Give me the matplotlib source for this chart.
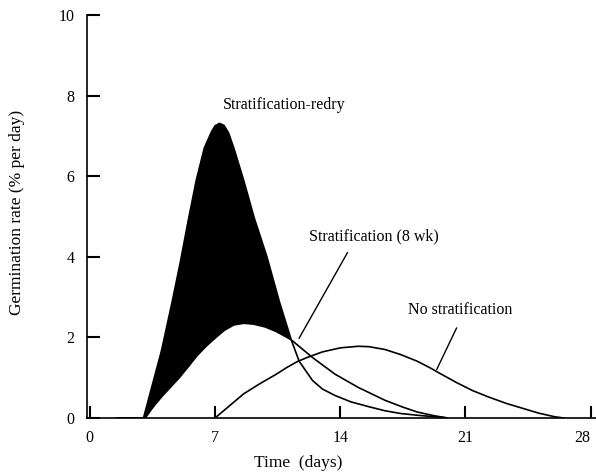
import numpy as np
import matplotlib.pyplot as plt

plt.rcParams['font.family'] = ['Liberation Serif', 'DejaVu Serif']

# Stratification-redry
redry_day = [1.5, 3.0, 3.5, 4.0, 4.6, 5.05, 5.5, 5.95, 6.4, 6.8, 7.0, 7.25, 7.5, 7.75,
             8.05, 8.6, 9.2, 9.9, 10.6, 11.26, 11.7, 12.45, 13.0, 13.7, 14.6, 15.6,
             16.5, 17.4, 18.5, 19.6, 20.0]
redry_rate = [0.0, 0.0, 0.83, 1.66, 2.88, 3.85, 4.9, 5.9, 6.7, 7.1, 7.25, 7.31, 7.26, 7.08,
              6.7, 5.9, 4.95, 4.0, 2.88, 1.94, 1.41, 0.93, 0.72, 0.56, 0.4, 0.28,
              0.18, 0.11, 0.06, 0.02, 0.0]

# Stratification (8 wk)
strat_day = [1.5, 3.1, 3.5, 4.0, 4.5, 5.0, 5.5, 6.0, 6.5, 7.0, 7.5, 8.05, 8.6, 9.15,
             9.8, 10.4, 10.9, 11.26, 12.45, 13.7, 15.0, 16.5, 17.5, 18.3, 19.2, 20.0]
strat_rate = [0.0, 0.0, 0.25, 0.52, 0.76, 1.0, 1.27, 1.55, 1.78, 1.98, 2.17, 2.31, 2.35, 2.33,
              2.26, 2.15, 2.03, 1.94, 1.5, 1.09, 0.76, 0.44, 0.27, 0.15, 0.06, 0.0]

# No stratification
nostrat_day = [7.0, 7.8, 8.6, 9.5, 10.4, 11.0, 11.6, 12.2, 13.0, 14.0, 15.0, 15.6, 16.5,
               17.4, 18.3, 19.0, 19.6, 20.5, 21.4, 22.3, 23.3, 24.2, 25.1, 26.0, 26.5]
nostrat_rate = [0.0, 0.3, 0.6, 0.85, 1.08, 1.25, 1.4, 1.51, 1.64, 1.74, 1.78, 1.77, 1.7,
                1.57, 1.41, 1.25, 1.1, 0.88, 0.68, 0.52, 0.36, 0.24, 0.12, 0.03, 0.0]

x_ticks = [0, 7, 14, 21, 28]
y_ticks = [0, 2, 4, 6, 8, 10]
cross_day = 11.26

fig = plt.figure(figsize=(5.96, 4.72), dpi=100)
ax = fig.add_axes([87 / 596, 54 / 472, 509 / 596, 403 / 472])

rd = np.array(redry_day)
rr = np.array(redry_rate)
sd = np.array(strat_day)
sr = np.array(strat_rate)

# black band between the redry and 8 wk curves
m1 = (rd >= 3.0) & (rd <= cross_day)
m2 = (sd >= 3.0) & (sd <= cross_day)
ax.fill(np.concatenate([rd[m1], sd[m2][::-1]]),
        np.concatenate([rr[m1], sr[m2][::-1]]), color='black', lw=0)

ax.plot(rd, rr, color='black', lw=1.2)
ax.plot(sd, sr, color='black', lw=1.2)
ax.plot(nostrat_day, nostrat_rate, color='black', lw=1.2)

# labels and leader lines
ax.text(10.85, 7.76, 'Stratification-redry', ha='center', va='center', fontsize=11.5)
ax.text(15.9, 4.5, 'Stratification (8 wk)', ha='center', va='center', fontsize=11.5)
ax.plot([14.4, 11.7], [4.1, 1.98], color='black', lw=1.0)
ax.text(20.7, 2.68, 'No stratification', ha='center', va='center', fontsize=11.5)
ax.plot([20.5, 19.4], [2.23, 1.21], color='black', lw=1.0)

ax.set_xlim(-0.16, 28.3)
ax.set_ylim(0, 10)
ax.set_xticks(x_ticks)
ax.set_yticks(y_ticks)
ax.tick_params(direction='in', length=9, width=1.5, labelsize=11.5, pad=9)
ax.get_xticklabels()[-1].set_ha('right')

for s in ['top', 'right']:
    ax.spines[s].set_visible(False)
for s in ['left', 'bottom']:
    ax.spines[s].set_linewidth(1.2)

ax.set_xlabel('Time  (days)', fontsize=12.5)
ax.set_ylabel('Germination rate (% per day)', fontsize=12.5)
ax.xaxis.set_label_coords(0.415, -0.092)
ax.yaxis.set_label_coords(-0.122, 0.51)

fig.savefig('out.png', dpi=100)
